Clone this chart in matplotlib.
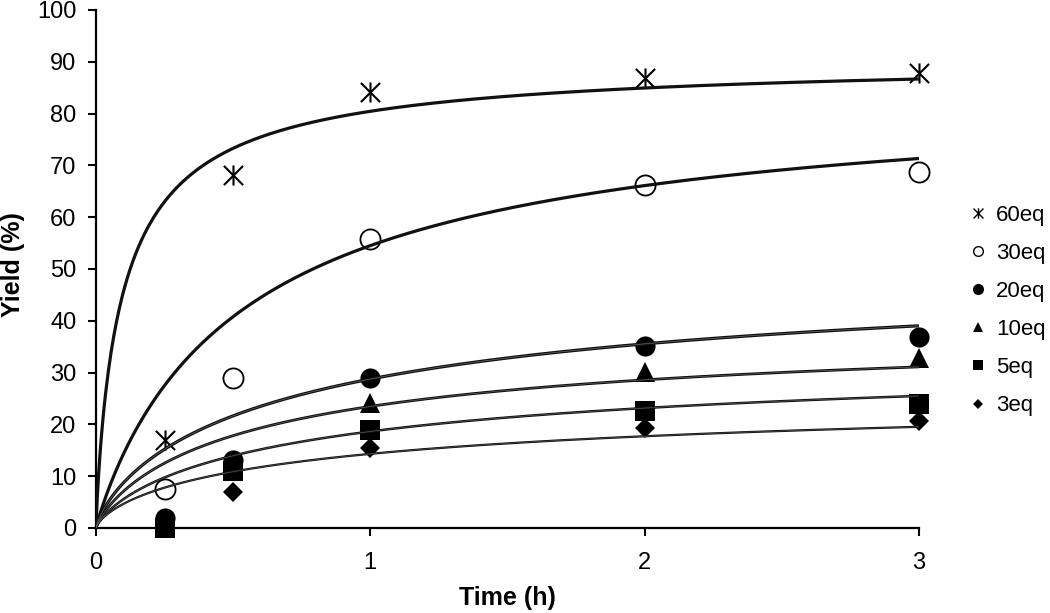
import numpy as np
import matplotlib
matplotlib.use("Agg")
import matplotlib.pyplot as plt
from matplotlib.path import Path
from matplotlib.lines import Line2D

plt.rcParams['font.family'] = ['Liberation Sans', 'DejaVu Sans']

# ---- data ----
labels = ['60eq', '30eq', '20eq', '10eq', '5eq', '3eq']
time_h = [0.25, 0.5, 1, 2, 3]
y60 = [17.0, 68.1, 84.2, 86.9, 87.8]
y30 = [7.5, 29.0, 55.8, 66.2, 68.7]
y20 = [1.9, 13.2, 29.0, 35.1, 36.9]
y10 = [0.8, 12.0, 24.1, 30.1, 32.8]
y5 = [0.0, 11.0, 18.9, 22.6, 23.9]
y3 = [0.0, 7.0, 15.4, 19.3, 20.7]

# fitted saturation curves  y = a * (t/b)^n / (1 + (t/b)^n)
fit_a = [91.0, 86.0, 53.0, 40.0, 35.0, 28.0]
fit_n = [0.880, 0.940, 0.780, 0.820, 0.780, 0.720]
fit_b = [0.0995, 0.5577, 0.8038, 0.6523, 0.8469, 0.9401]

x_ticks = [0, 1, 2, 3]
y_ticks = [0, 10, 20, 30, 40, 50, 60, 70, 80, 90, 100]

# ---- styles ----
star = Path([(-1, -1), (1, 1), (-1, 1), (1, -1), (0, -1.05), (0, 1.05)],
            [Path.MOVETO, Path.LINETO, Path.MOVETO, Path.LINETO, Path.MOVETO, Path.LINETO])
series = [y60, y30, y20, y10, y5, y3]
mk = [dict(marker=star, ms=14.5, mec='k', mew=1.5, mfc='none'),
      dict(marker='o', ms=14.5, mec='k', mew=1.3, mfc='none'),
      dict(marker='o', ms=14.5, mec='k', mew=0, mfc='k'),
      dict(marker='^', ms=14.5, mec='k', mew=0, mfc='k'),
      dict(marker='s', ms=14.0, mec='k', mew=0, mfc='k'),
      dict(marker='D', ms=10.5, mec='k', mew=0, mfc='k')]
leg_ms = [7.5, 7, 8, 7.5, 7.5, 5.5]
line_w = [2.3, 2.3, 2.3, 2.0, 1.8, 1.6]
inner_w = [0, 0, 0.5, 0.45, 0.4, 0.35]

fig = plt.figure(figsize=(10.5, 6.13), dpi=100)
ax = fig.add_axes([0.0914, 0.1387, 0.7838, 0.845])

for ys, m in zip(series, mk):
    ax.plot(time_h, ys, linestyle='none', clip_on=False, zorder=3, **m)

xx = np.linspace(0, 3, 600)
for a, n, b, lw, iw in zip(fit_a, fit_n, fit_b, line_w, inner_w):
    t = (xx / b) ** n
    yy = a * t / (1 + t)
    ax.plot(xx, yy, color='#111111', lw=lw, zorder=4, solid_capstyle='butt')
    if iw > 0:
        ax.plot(xx, yy, color='#666666', lw=iw, zorder=5)

ax.set_xlim(0, 3)
ax.set_ylim(0, 100)
ax.set_xticks(x_ticks)
ax.set_yticks(y_ticks)
for s in ['top', 'right']:
    ax.spines[s].set_visible(False)
for s in ['left', 'bottom']:
    ax.spines[s].set_linewidth(1.6)
ax.tick_params(direction='out', length=6, width=1.5, labelsize=17, colors='k')
ax.tick_params(axis='y', pad=8)
ax.tick_params(axis='x', pad=11)

ax.set_xlabel('Time (h)', fontsize=18, fontweight='bold')
ax.xaxis.set_label_coords(0.5, -0.112)
ax.set_ylabel('Yield (%)', fontsize=18, fontweight='bold')
ax.yaxis.set_label_coords(-0.086, 0.508)

handles = []
for m, s in zip(mk, leg_ms):
    d = dict(m)
    d['ms'] = s
    if d['mew'] > 0:
        d['mew'] = 1.0
    handles.append(Line2D([], [], linestyle='none', **d))
fig.legend(handles, labels, loc='upper left', bbox_to_anchor=(0.923, 0.666),
           frameon=False, fontsize=16, handlelength=0.8, handletextpad=0.4,
           labelspacing=0.77, borderpad=0, borderaxespad=0)

fig.savefig('out.png', dpi=100)
